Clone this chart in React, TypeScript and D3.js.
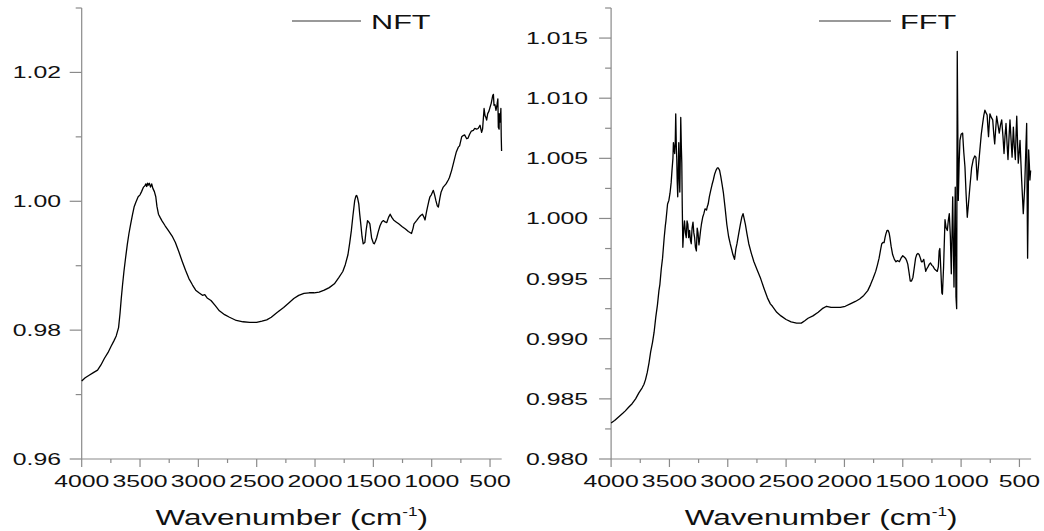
import React from "react";
import * as d3 from "d3";

// ---------- data (wavenumber cm^-1, transmittance ratio) ----------
const nftSpectrum: [number, number][] = [
  [4000, 0.9721], [3970, 0.9726], [3936, 0.9730], [3900, 0.9734], [3864, 0.9738], [3835, 0.9746],
  [3806, 0.9756], [3775, 0.9765], [3748, 0.9775], [3725, 0.9783], [3704, 0.9791], [3684, 0.9804],
  [3672, 0.9825], [3661, 0.9849], [3650, 0.9870], [3638, 0.9891], [3624, 0.9912], [3609, 0.9933],
  [3595, 0.9950], [3580, 0.9965], [3565, 0.9979], [3551, 0.9991], [3535, 0.9999], [3516, 1.0007],
  [3500, 1.0010], [3487, 1.0015], [3470, 1.0022], [3458, 1.0024], [3450, 1.0027], [3443, 1.0023],
  [3435, 1.0028], [3429, 1.0025], [3420, 1.0028], [3410, 1.0022], [3400, 1.0027], [3390, 1.0020],
  [3377, 1.0015], [3365, 1.0007], [3355, 0.9992], [3342, 0.9980], [3328, 0.9975], [3313, 0.9970],
  [3285, 0.9962], [3255, 0.9954], [3225, 0.9946], [3197, 0.9936], [3168, 0.9922], [3139, 0.9907],
  [3110, 0.9893], [3081, 0.9880], [3050, 0.9870], [3023, 0.9862], [2995, 0.9858], [2965, 0.9854],
  [2945, 0.9855], [2925, 0.9850], [2892, 0.9846], [2855, 0.9838], [2820, 0.9830], [2775, 0.9824],
  [2733, 0.9820], [2675, 0.9815], [2617, 0.9813], [2560, 0.9812], [2501, 0.9812], [2455, 0.9814],
  [2414, 0.9816], [2375, 0.9820], [2341, 0.9825], [2320, 0.9828], [2300, 0.9831], [2269, 0.9835],
  [2225, 0.9842], [2182, 0.9849], [2140, 0.9854], [2095, 0.9857], [2050, 0.9858], [2008, 0.9858],
  [1965, 0.9859], [1921, 0.9862], [1878, 0.9866], [1834, 0.9872], [1795, 0.9882], [1762, 0.9891],
  [1740, 0.9902], [1718, 0.9917], [1703, 0.9935], [1689, 0.9954], [1675, 0.9978], [1660, 1.0001],
  [1650, 1.0008], [1643, 1.0009], [1635, 1.0005], [1625, 0.9996], [1617, 0.9980], [1608, 0.9965],
  [1597, 0.9945], [1587, 0.9934], [1573, 0.9936], [1562, 0.9955], [1550, 0.9970], [1540, 0.9968],
  [1530, 0.9965], [1515, 0.9943], [1500, 0.9935], [1492, 0.9934], [1482, 0.9938], [1472, 0.9943],
  [1458, 0.9953], [1443, 0.9962], [1428, 0.9968], [1414, 0.9970], [1400, 0.9968], [1385, 0.9967],
  [1370, 0.9975], [1356, 0.9980], [1342, 0.9975], [1327, 0.9971], [1305, 0.9968], [1283, 0.9965],
  [1255, 0.9961], [1225, 0.9957], [1200, 0.9953], [1173, 0.9950], [1160, 0.9958], [1152, 0.9965],
  [1130, 0.9970], [1109, 0.9975], [1095, 0.9978], [1080, 0.9980], [1068, 0.9976], [1057, 0.9971],
  [1045, 0.9983], [1036, 0.9991], [1025, 1.0000], [1015, 1.0007], [1003, 1.0010], [986, 1.0017],
  [975, 1.0010], [964, 1.0001], [952, 0.9993], [943, 0.9991], [930, 1.0005], [920, 1.0014],
  [901, 1.0022], [877, 1.0027], [858, 1.0033], [848, 1.0037], [829, 1.0048], [815, 1.0058],
  [800, 1.0069], [790, 1.0076], [772, 1.0084], [761, 1.0086], [743, 1.0100], [730, 1.0102],
  [718, 1.0103], [700, 1.0097], [689, 1.0098], [675, 1.0104], [660, 1.0109], [643, 1.0110],
  [631, 1.0113], [615, 1.0112], [602, 1.0113], [586, 1.0118], [572, 1.0107], [564, 1.0112],
  [551, 1.0144], [543, 1.0133], [535, 1.0130], [529, 1.0126], [520, 1.0136], [509, 1.0140],
  [500, 1.0146], [490, 1.0152], [477, 1.0164], [471, 1.0166], [466, 1.0149], [458, 1.0150],
  [449, 1.0141], [440, 1.0150], [433, 1.0159], [429, 1.0115], [422, 1.0112], [421, 1.0136],
  [413, 1.0123], [407, 1.0144], [404, 1.0100], [401, 1.0078],
];

const fftSpectrum: [number, number][] = [
  [4000, 0.9830], [3970, 0.9832], [3936, 0.9835], [3900, 0.9838], [3878, 0.9840], [3850, 0.9843],
  [3820, 0.9846], [3790, 0.9850], [3762, 0.9855], [3735, 0.9859], [3719, 0.9862], [3705, 0.9866],
  [3690, 0.9872], [3675, 0.9880], [3661, 0.9889], [3645, 0.9897], [3632, 0.9905], [3617, 0.9918],
  [3603, 0.9928], [3590, 0.9940], [3582, 0.9945], [3570, 0.9958], [3559, 0.9967], [3545, 0.9984],
  [3535, 0.9994], [3530, 0.9998], [3522, 1.0006], [3516, 1.0012], [3505, 1.0015], [3495, 1.0021],
  [3485, 1.0030], [3478, 1.0040], [3470, 1.0050], [3466, 1.0063], [3460, 1.0058], [3455, 1.0054],
  [3450, 1.0064], [3446, 1.0087], [3441, 1.0060], [3437, 1.0049], [3433, 1.0030], [3429, 1.0018],
  [3424, 1.0040], [3420, 1.0063], [3415, 1.0035], [3411, 1.0022], [3407, 1.0050], [3403, 1.0084],
  [3398, 1.0060], [3394, 1.0046], [3390, 1.0010], [3385, 0.9976], [3378, 0.9990], [3371, 0.9998],
  [3363, 0.9988], [3356, 0.9984], [3349, 0.9998], [3342, 0.9995], [3335, 0.9984], [3327, 0.9990],
  [3320, 0.9982], [3313, 0.9979], [3306, 0.9992], [3298, 0.9997], [3291, 0.9988], [3284, 0.9984],
  [3277, 0.9976], [3269, 0.9973], [3262, 0.9992], [3255, 0.9988], [3247, 0.9978], [3240, 0.9984],
  [3233, 0.9990], [3226, 0.9995], [3215, 1.0001], [3205, 1.0004], [3195, 1.0008], [3182, 1.0007],
  [3175, 1.0010], [3168, 1.0012], [3158, 1.0018], [3147, 1.0023], [3135, 1.0028], [3124, 1.0032],
  [3112, 1.0037], [3101, 1.0040], [3090, 1.0042], [3081, 1.0042], [3070, 1.0040], [3060, 1.0035],
  [3048, 1.0028], [3037, 1.0021], [3022, 1.0008], [3008, 0.9995], [2993, 0.9985], [2979, 0.9979],
  [2966, 0.9974], [2956, 0.9970], [2942, 0.9966], [2930, 0.9975], [2921, 0.9979], [2905, 0.9988],
  [2892, 0.9995], [2880, 1.0001], [2869, 1.0004], [2860, 1.0000], [2849, 0.9995], [2835, 0.9987],
  [2820, 0.9979], [2798, 0.9971], [2776, 0.9964], [2747, 0.9957], [2718, 0.9950], [2690, 0.9942],
  [2660, 0.9934], [2635, 0.9929], [2617, 0.9927], [2580, 0.9922], [2544, 0.9919], [2500, 0.9916],
  [2457, 0.9914], [2410, 0.9913], [2370, 0.9913], [2340, 0.9915], [2312, 0.9917], [2270, 0.9919],
  [2225, 0.9922], [2190, 0.9925], [2153, 0.9927], [2115, 0.9926], [2080, 0.9926], [2035, 0.9926],
  [1993, 0.9927], [1950, 0.9929], [1906, 0.9931], [1870, 0.9933], [1834, 0.9936], [1800, 0.9940],
  [1776, 0.9945], [1755, 0.9950], [1732, 0.9956], [1718, 0.9961], [1703, 0.9967], [1690, 0.9974],
  [1680, 0.9979], [1670, 0.9980], [1660, 0.9980], [1652, 0.9984], [1645, 0.9987], [1635, 0.9990],
  [1625, 0.9990], [1617, 0.9988], [1610, 0.9984], [1600, 0.9977], [1587, 0.9970], [1572, 0.9966],
  [1558, 0.9964], [1545, 0.9965], [1529, 0.9964], [1515, 0.9967], [1500, 0.9969], [1488, 0.9968],
  [1477, 0.9967], [1467, 0.9965], [1457, 0.9962], [1446, 0.9955], [1436, 0.9948], [1425, 0.9948],
  [1413, 0.9951], [1400, 0.9960], [1390, 0.9967], [1380, 0.9970], [1370, 0.9971], [1360, 0.9970],
  [1349, 0.9967], [1340, 0.9964], [1332, 0.9964], [1320, 0.9966], [1310, 0.9960], [1303, 0.9956],
  [1295, 0.9958], [1283, 0.9960], [1272, 0.9962], [1262, 0.9963], [1250, 0.9961], [1239, 0.9960],
  [1228, 0.9958], [1216, 0.9957], [1204, 0.9956], [1195, 0.9960], [1188, 0.9973], [1182, 0.9975],
  [1175, 0.9960], [1165, 0.9938], [1160, 0.9937], [1150, 0.9960], [1138, 0.9999], [1128, 0.9992],
  [1118, 0.9990], [1110, 0.9998], [1101, 1.0004], [1092, 0.9985], [1084, 0.9954], [1072, 1.0018],
  [1061, 0.9943], [1050, 1.0026], [1044, 0.9935], [1038, 0.9925], [1033, 1.0139], [1024, 1.0015],
  [1017, 1.0045], [1010, 1.0065], [1000, 1.0070], [987, 1.0071], [977, 1.0055], [967, 1.0043],
  [957, 1.0020], [947, 1.0001], [937, 1.0012], [925, 1.0026], [910, 1.0042], [896, 1.0049],
  [883, 1.0052], [873, 1.0051], [862, 1.0032], [850, 1.0045], [839, 1.0057], [827, 1.0070],
  [815, 1.0079], [805, 1.0086], [796, 1.0090], [787, 1.0088], [777, 1.0086], [770, 1.0075],
  [765, 1.0068], [759, 1.0078], [753, 1.0087], [741, 1.0084], [729, 1.0082], [720, 1.0070],
  [712, 1.0062], [703, 1.0075], [695, 1.0085], [684, 1.0078], [673, 1.0071], [662, 1.0078],
  [652, 1.0082], [641, 1.0068], [632, 1.0054], [624, 1.0068], [615, 1.0079], [606, 1.0062],
  [598, 1.0049], [589, 1.0068], [581, 1.0082], [572, 1.0066], [563, 1.0051], [557, 1.0064],
  [552, 1.0076], [544, 1.0060], [535, 1.0049], [529, 1.0070], [523, 1.0085], [516, 1.0063],
  [510, 1.0046], [502, 1.0055], [495, 1.0065], [488, 1.0048], [481, 1.0032], [474, 1.0018],
  [467, 1.0004], [461, 1.0015], [455, 1.0026], [446, 1.0055], [438, 1.0079], [434, 1.0020],
  [430, 0.9967], [425, 1.0010], [421, 1.0057], [415, 1.0045], [410, 1.0032], [404, 1.0040],
];

const xMajorTicks = [4000, 3500, 3000, 2500, 2000, 1500, 1000, 500];
const xMinorTicks = [3750, 3250, 2750, 2250, 1750, 1250, 750];
const leftYMajor = [0.96, 0.98, 1.0, 1.02];
const leftYMinor = [0.97, 0.99, 1.01, 1.03];
const rightYMajor = [0.98, 0.985, 0.99, 0.995, 1.0, 1.005, 1.01, 1.015];
const rightYMinor = [0.9825, 0.9875, 0.9925, 0.9975, 1.0025, 1.0075, 1.0125, 1.0175];
const xTitle = "Wavenumber (cm";
const xTitleSup = "-1";

const FONT = "'Liberation Sans', Arial, sans-serif";
const SX = 1.55; // horizontal stretch of the reference image text
const AXIS = "#8a8a8a";

type PanelProps = {
  data: [number, number][];
  x0: number;
  x1: number;
  yDomain: [number, number];
  yMajor: number[];
  yMinor: number[];
  yFmt: (v: number) => string;
  labelEnd: number;
  legend: string;
  legendLine: [number, number];
  legendTextX: number;
};

function Panel(p: PanelProps) {
  const x = d3.scaleLinear().domain([4000, 400]).range([p.x0, p.x1]);
  const y = d3.scaleLinear().domain(p.yDomain).range([459, 8]);
  const line = d3
    .line<[number, number]>()
    .x((d) => x(d[0]))
    .y((d) => y(d[1]));
  const ax = x(4000);
  const ay = y(p.yDomain[0]);
  return (
    <g>
      {/* axes */}
      <line x1={ax} x2={ax} y1={ay} y2={y(p.yDomain[1])} stroke={AXIS} strokeWidth={1.2} />
      <line x1={ax} x2={x(400)} y1={ay} y2={ay} stroke={AXIS} strokeWidth={1.2} />
      {p.yMajor.map((v) => (
        <g key={"ym" + v}>
          <line x1={ax - 12} x2={ax} y1={y(v)} y2={y(v)} stroke={AXIS} strokeWidth={1.2} />
          <text
            transform={`translate(${p.labelEnd},${y(v) + 6}) scale(${SX},1)`}
            textAnchor="end"
            fontFamily={FONT}
            fontSize={16}
            fill="#111"
          >
            {p.yFmt(v)}
          </text>
        </g>
      ))}
      {p.yMinor.map((v) => (
        <line key={"yn" + v} x1={ax - 6} x2={ax} y1={y(v)} y2={y(v)} stroke={AXIS} strokeWidth={1.2} />
      ))}
      {xMajorTicks.map((v) => (
        <g key={"xm" + v}>
          <line x1={x(v)} x2={x(v)} y1={ay} y2={ay + 8} stroke={AXIS} strokeWidth={1.2} />
          <text
            transform={`translate(${x(v)},${ay + 28}) scale(${SX},1)`}
            textAnchor="middle"
            fontFamily={FONT}
            fontSize={16}
            fill="#111"
          >
            {v}
          </text>
        </g>
      ))}
      {xMinorTicks.map((v) => (
        <line key={"xn" + v} x1={x(v)} x2={x(v)} y1={ay} y2={ay + 4} stroke={AXIS} strokeWidth={1.2} />
      ))}
      {/* axis title */}
      <text
        transform={`translate(${(x(4000) + x(400)) / 2},524.5) scale(1.43,1)`}
        textAnchor="middle"
        fontFamily={FONT}
        fontSize={22}
        fill="#111"
      >
        <tspan>{xTitle}</tspan>
        <tspan dy={-9} fontSize={12}>{xTitleSup}</tspan>
        <tspan dy={9}>)</tspan>
      </text>
      {/* data */}
      <path d={line(p.data) ?? ""} fill="none" stroke="#000" strokeWidth={1.3} strokeLinejoin="round" />
      {/* legend */}
      <line x1={p.legendLine[0]} x2={p.legendLine[1]} y1={21} y2={21} stroke="#777" strokeWidth={1.5} />
      <text
        transform={`translate(${p.legendTextX},28.5) scale(1.46,1)`}
        fontFamily={FONT}
        fontSize={21}
        fill="#111"
      >
        {p.legend}
      </text>
    </g>
  );
}

export default function App() {
  return (
    <svg
      width={1044}
      height={531}
      style={{ position: "absolute", left: 0, top: 0, display: "block", background: "#fff" }}
    >
      <rect width={1044} height={531} fill="#fff" />
      <Panel
        data={nftSpectrum}
        x0={81.7}
        x1={501.7}
        yDomain={[0.96, 1.03]}
        yMajor={leftYMajor}
        yMinor={leftYMinor}
        yFmt={(v) => v.toFixed(2)}
        labelEnd={61}
        legend="NFT"
        legendLine={[292, 361]}
        legendTextX={371}
      />
      <Panel
        data={fftSpectrum}
        x0={611.1}
        x1={1031.1}
        yDomain={[0.98, 1.0175]}
        yMajor={rightYMajor}
        yMinor={rightYMinor}
        yFmt={(v) => v.toFixed(3)}
        labelEnd={588}
        legend="FFT"
        legendLine={[819, 891]}
        legendTextX={900}
      />
    </svg>
  );
}
